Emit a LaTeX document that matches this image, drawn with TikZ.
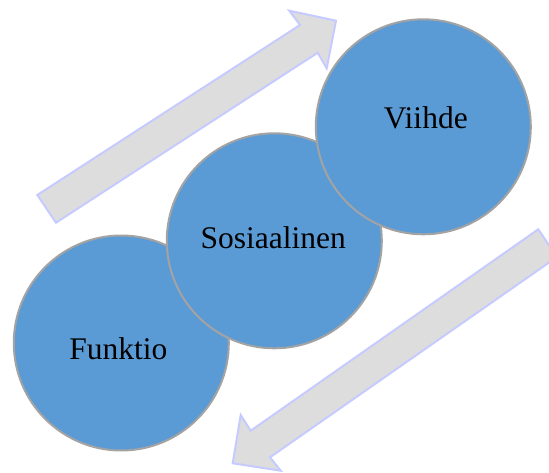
\documentclass[tikz,border=0pt]{standalone}
\usepackage{fontspec}
\setmainfont{Liberation Serif}
\begin{document}
\begin{tikzpicture}[x=1pt,y=-1pt,
  bubble/.style={circle,draw=bubbleline,fill=bubblefill,line width=2pt,
    minimum size=215pt,inner sep=0pt},
  caption/.style={anchor=base,inner sep=0pt,font=\fontsize{31.5}{38}\selectfont},
  blockarrow/.style={fill=arrowfill,draw=arrowline,line width=2pt,line join=miter}]
\definecolor{bubblefill}{HTML}{5B9BD5}
\definecolor{bubbleline}{HTML}{A3A3A3}
\definecolor{arrowfill}{HTML}{DDDDDD}
\definecolor{arrowline}{HTML}{C6CBFF}
\clip (0,0) rectangle (549,473);
\useasboundingbox (0,0) rectangle (549,473);

% rising arrow, lower left to upper right
\draw[blockarrow] (37.3,195) -- (300,25) -- (289.3,10.7) -- (336,20.7)
  -- (326.7,68.3) -- (317.7,52.7) -- (56,222.7) -- cycle;
% falling arrow, upper right to lower left
\draw[blockarrow] (538.3,229.3) -- (250.7,430.7) -- (240.7,415) -- (232.7,463.3)
  -- (280.7,470.7) -- (270,457.3) -- (557,257) -- cycle;

% the three circles, each one lying over the previous
\node[bubble] (funktio) at (121.3,343) {};
\node[bubble] (sosiaalinen) at (274.3,240.8) {};
\node[bubble] (viihde) at (423.3,126.8) {};

\node[caption] (tfunktio) at (118.3,359.3) {Funktio};
\node[caption] (tsosiaalinen) at (273.3,248.3) {Sosiaalinen};
\node[caption] (tviihde) at (425.8,128.3) {Viihde};
\end{tikzpicture}
\end{document}
